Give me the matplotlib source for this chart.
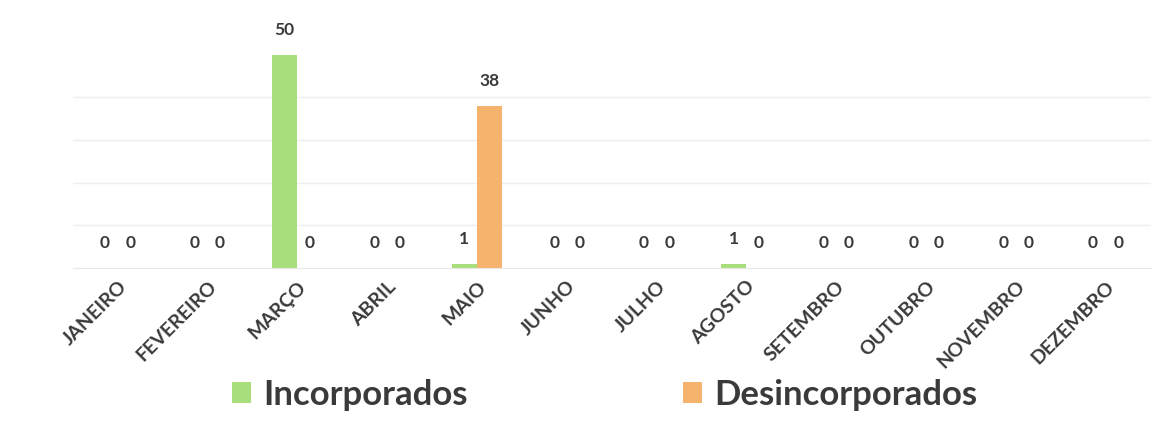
import numpy as np
import matplotlib
matplotlib.use("Agg")
import matplotlib.pyplot as plt

meses = ["JANEIRO", "FEVEREIRO", "MARÇO", "ABRIL", "MAIO", "JUNHO", "JULHO",
         "AGOSTO", "SETEMBRO", "OUTUBRO", "NOVEMBRO", "DEZEMBRO"]
incorporados = [0, 0, 50, 0, 1, 0, 0, 1, 0, 0, 0, 0]
desincorporados = [0, 0, 0, 0, 38, 0, 0, 0, 0, 0, 0, 0]

verde = "#a8df7c"
laranja = "#f5b36e"
texto = "#3a3a3a"

plt.rcParams["font.family"] = ["Lato", "DejaVu Sans"]

fig = plt.figure(figsize=(11.74, 4.33), dpi=100)
ax = fig.add_axes([0.062, 0.381, 0.918, 0.591])

x = np.arange(len(meses))
w = 0.28
b1 = ax.bar(x - w/2, incorporados, w, color=verde, label="Incorporados")
b2 = ax.bar(x + w/2, desincorporados, w, color=laranja, label="Desincorporados")

for bars, vals in [(b1, incorporados), (b2, desincorporados)]:
    for r, v in zip(bars, vals):
        ax.annotate(str(v), (r.get_x() + r.get_width()/2, v), xytext=(0, 18),
                    textcoords="offset points", ha="center", va="center",
                    fontsize=12.5, fontweight="bold", color=texto)

ax.set_xlim(-0.5, len(meses) - 0.5)
ax.set_ylim(0, 60)
ax.set_yticks([10, 20, 30, 40])
ax.yaxis.grid(True, color="#eeeeee", lw=1)
ax.set_axisbelow(True)
ax.tick_params(axis="y", left=False, labelleft=False)
ax.tick_params(axis="x", length=0, pad=7)
for s in ["top", "right", "left"]:
    ax.spines[s].set_visible(False)
ax.spines["bottom"].set_color("#e8e8e8")

ax.set_xticks(x)
ax.set_xticklabels(meses, rotation=45, ha="right", rotation_mode="anchor",
                   fontsize=14, fontweight="bold", color=texto)

fig.legend(handles=[b1, b2], loc="center", bbox_to_anchor=(0.515, 0.088),
           ncol=2, frameon=False, columnspacing=6.2,
           handlelength=0.55, handleheight=0.55, handletextpad=0.35,
           prop={"size": 25, "weight": "bold"}, labelcolor=texto)

fig.savefig("out.png", dpi=100, facecolor="white")
